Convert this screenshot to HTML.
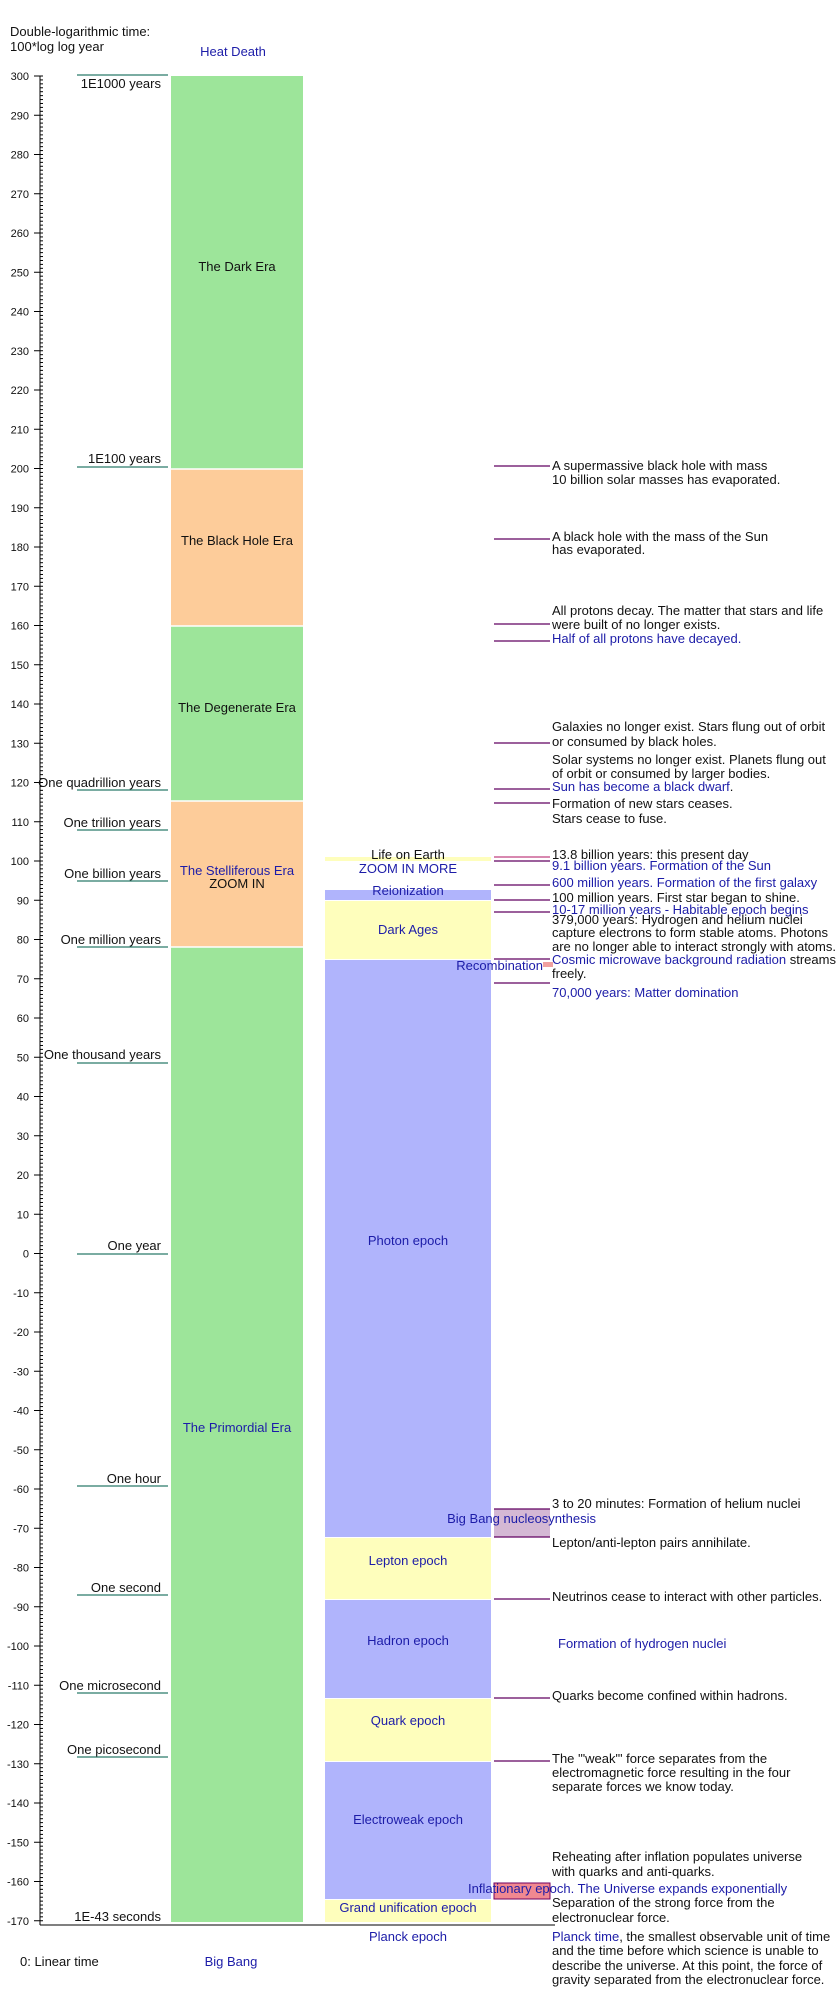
<!DOCTYPE html>
<html><head><meta charset="utf-8"><style>
html,body{margin:0;padding:0;background:#fff;}
svg{display:block;font-family:"Liberation Sans",sans-serif;}
.t{font-size:13px;fill:#111;}
.b{font-size:13px;fill:#1c1ca8;}
.k{font-size:11px;fill:#111;}
</style></head><body>
<svg width="840" height="2000" viewBox="0 0 840 2000" xmlns="http://www.w3.org/2000/svg">
<text class="t" x="10" y="36">Double-logarithmic time:</text>
<text class="t" x="10" y="51">100*log log year</text>
<text class="b" x="233" y="56" text-anchor="middle">Heat Death</text>

<!-- left column -->
<rect x="171" y="76" width="132" height="393" fill="#9de59a"/>
<rect x="171" y="469" width="132" height="157" fill="#fdcc9a"/>
<rect x="171" y="626" width="132" height="175" fill="#9de59a"/>
<rect x="171" y="801" width="132" height="146" fill="#fdcc9a"/>
<rect x="171" y="947" width="132" height="975" fill="#9de59a"/>
<g stroke="#fff" stroke-width="1.5">
<line x1="171" y1="469" x2="303" y2="469"/><line x1="171" y1="626" x2="303" y2="626"/>
<line x1="171" y1="801" x2="303" y2="801"/><line x1="171" y1="947" x2="303" y2="947"/>
</g>
<text class="t" x="237" y="271" text-anchor="middle">The Dark Era</text>
<text class="t" x="237" y="545" text-anchor="middle">The Black Hole Era</text>
<text class="t" x="237" y="712" text-anchor="middle">The Degenerate Era</text>
<text class="b" x="237" y="875" text-anchor="middle">The Stelliferous Era</text>
<text class="t" x="237" y="888" text-anchor="middle">ZOOM  IN</text>
<text class="b" x="237" y="1432" text-anchor="middle">The Primordial Era</text>

<!-- middle column -->
<rect x="325" y="857" width="166" height="4" fill="#fefebc"/>
<rect x="325" y="890" width="166" height="10" fill="#b0b4fc"/>
<rect x="325" y="901" width="166" height="58" fill="#fefebc"/>
<rect x="325" y="960" width="166" height="577" fill="#b0b4fc"/>
<rect x="325" y="1538" width="166" height="61" fill="#fefebc"/>
<rect x="325" y="1600" width="166" height="98" fill="#b0b4fc"/>
<rect x="325" y="1699" width="166" height="62" fill="#fefebc"/>
<rect x="325" y="1762" width="166" height="137" fill="#b0b4fc"/>
<rect x="325" y="1900" width="166" height="22" fill="#fefebc"/>
<text class="t" x="408" y="859" text-anchor="middle">Life on Earth</text>
<text class="b" x="408" y="873" text-anchor="middle">ZOOM  IN  MORE</text>
<text class="b" x="408" y="895" text-anchor="middle">Reionization</text>
<text class="b" x="408" y="934" text-anchor="middle">Dark Ages</text>
<text class="b" x="408" y="1245" text-anchor="middle">Photon epoch</text>
<text class="b" x="408" y="1565" text-anchor="middle">Lepton epoch</text>
<text class="b" x="408" y="1645" text-anchor="middle">Hadron epoch</text>
<text class="b" x="408" y="1725" text-anchor="middle">Quark epoch</text>
<text class="b" x="408" y="1824" text-anchor="middle">Electroweak epoch</text>
<text class="b" x="408" y="1912" text-anchor="middle">Grand unification epoch</text>
<text class="b" x="408" y="1941" text-anchor="middle">Planck epoch</text>

<!-- small boxes -->
<rect x="543" y="962" width="10" height="5" fill="#f0a0a0"/>
<rect x="494" y="1509" width="56" height="28" fill="#d4b8d4"/>
<rect x="494" y="1883" width="56" height="16" fill="#f08890" stroke="#700060" stroke-width="1"/>

<!-- axis -->
<g stroke="#000" stroke-width="1">
<line x1="40" y1="76" x2="40" y2="1925"/>
<line x1="40" y1="1925" x2="555" y2="1925"/>
</g>
<g id="ticks" stroke="#000" stroke-width="1"></g>
<g id="ticklabels"></g>

<!-- left labels -->
<g stroke="#2a7a6a" stroke-width="1.2">
<line x1="77" y1="75" x2="168" y2="75"/><line x1="77" y1="467" x2="168" y2="467"/>
<line x1="77" y1="790" x2="168" y2="790"/><line x1="77" y1="830" x2="168" y2="830"/>
<line x1="77" y1="881" x2="168" y2="881"/><line x1="77" y1="947" x2="168" y2="947"/>
<line x1="77" y1="1063" x2="168" y2="1063"/><line x1="77" y1="1254" x2="168" y2="1254"/>
<line x1="77" y1="1486" x2="168" y2="1486"/><line x1="77" y1="1595" x2="168" y2="1595"/>
<line x1="77" y1="1693" x2="168" y2="1693"/><line x1="77" y1="1757" x2="168" y2="1757"/>
</g>
<g class="t" text-anchor="end">
<text class="t" x="161" y="88">1E1000 years</text>
<text class="t" x="161" y="463">1E100 years</text>
<text class="t" x="161" y="787">One quadrillion years</text>
<text class="t" x="161" y="827">One trillion years</text>
<text class="t" x="161" y="878">One billion years</text>
<text class="t" x="161" y="944">One million years</text>
<text class="t" x="161" y="1059">One thousand years</text>
<text class="t" x="161" y="1250">One year</text>
<text class="t" x="161" y="1483">One hour</text>
<text class="t" x="161" y="1592">One second</text>
<text class="t" x="161" y="1690">One microsecond</text>
<text class="t" x="161" y="1754">One picosecond</text>
<text class="t" x="161" y="1921">1E-43 seconds</text>
</g>

<!-- right lines -->
<g stroke="#600060" stroke-width="1.2">
<line x1="494" y1="466" x2="550" y2="466"/><line x1="494" y1="539" x2="550" y2="539"/>
<line x1="494" y1="624" x2="550" y2="624"/><line x1="494" y1="641" x2="550" y2="641"/>
<line x1="494" y1="743" x2="550" y2="743"/><line x1="494" y1="789" x2="550" y2="789"/>
<line x1="494" y1="803" x2="550" y2="803"/>
<line x1="494" y1="861" x2="550" y2="861"/><line x1="494" y1="885" x2="550" y2="885"/>
<line x1="494" y1="900" x2="550" y2="900"/><line x1="494" y1="912" x2="550" y2="912"/>
<line x1="494" y1="959" x2="550" y2="959"/><line x1="494" y1="983" x2="550" y2="983"/>
<line x1="494" y1="1509" x2="550" y2="1509"/><line x1="494" y1="1537" x2="550" y2="1537"/>
<line x1="494" y1="1599" x2="550" y2="1599"/><line x1="494" y1="1698" x2="550" y2="1698"/>
<line x1="494" y1="1761" x2="550" y2="1761"/>
</g>
<line x1="494" y1="857" x2="550" y2="857" stroke="#c04080" stroke-width="1.2"/>

<text class="b" x="543" y="970" text-anchor="end">Recombination</text>
<text class="b" x="596" y="1523" text-anchor="end">Big Bang nucleosynthesis</text>
<text class="b" x="468" y="1893">Inflationary epoch. The Universe expands exponentially</text>

<g>
<text class="t" x="552" y="470">A supermassive black hole with mass</text>
<text class="t" x="552" y="484">10 billion solar masses has evaporated.</text>
<text class="t" x="552" y="541">A black hole with the mass of the Sun</text>
<text class="t" x="552" y="554">has evaporated.</text>
<text class="t" x="552" y="615">All protons decay. The matter that stars and life</text>
<text class="t" x="552" y="629">were built of no longer exists.</text>
<text class="b" x="552" y="643">Half of all protons have decayed.</text>
<text class="t" x="552" y="731">Galaxies no longer exist. Stars flung out of orbit</text>
<text class="t" x="552" y="746">or consumed by black holes.</text>
<text class="t" x="552" y="764">Solar systems no longer exist. Planets flung out</text>
<text class="t" x="552" y="778">of orbit or consumed by larger bodies.</text>
<text class="b" x="552" y="791">Sun has become a black dwarf<tspan fill="#111">.</tspan></text>
<text class="t" x="552" y="808">Formation of new stars ceases.</text>
<text class="t" x="552" y="823">Stars cease to fuse.</text>
<text class="t" x="552" y="859">13.8 billion years: this present day</text>
<text class="b" x="552" y="870">9.1 billion years. Formation of the Sun</text>
<text class="b" x="552" y="887">600 million years. Formation of the first galaxy</text>
<text class="t" x="552" y="902">100 million years. First star began to shine.</text>
<text class="b" x="552" y="914">10-17 million years - Habitable epoch begins</text>
<text class="t" x="552" y="924">379,000 years: Hydrogen and helium nuclei</text>
<text class="t" x="552" y="937">capture electrons to form stable atoms. Photons</text>
<text class="t" x="552" y="951">are no longer able to interact strongly with atoms.</text>
<text class="b" x="552" y="964">Cosmic microwave background radiation<tspan fill="#111"> streams</tspan></text>
<text class="t" x="552" y="978">freely.</text>
<text class="b" x="552" y="997">70,000 years: Matter domination</text>
<text class="t" x="552" y="1508">3 to 20 minutes: Formation of helium nuclei</text>
<text class="t" x="552" y="1547">Lepton/anti-lepton pairs annihilate.</text>
<text class="t" x="552" y="1601">Neutrinos cease to interact with other particles.</text>
<text class="b" x="558" y="1648">Formation of hydrogen nuclei</text>
<text class="t" x="552" y="1700">Quarks become confined within hadrons.</text>
<text class="t" x="552" y="1763">The '"weak"' force separates from the</text>
<text class="t" x="552" y="1777">electromagnetic force resulting in the four</text>
<text class="t" x="552" y="1791">separate forces we know today.</text>
<text class="t" x="552" y="1861">Reheating after inflation populates universe</text>
<text class="t" x="552" y="1876">with quarks and anti-quarks.</text>
<text class="t" x="552" y="1907">Separation of the strong force from the</text>
<text class="t" x="552" y="1922">electronuclear force.</text>
<text class="b" x="552" y="1941">Planck time<tspan fill="#111">, the smallest observable unit of time</tspan></text>
<text class="t" x="552" y="1955">and the time before which science is unable to</text>
<text class="t" x="552" y="1970">describe the universe.  At this point, the force of</text>
<text class="t" x="552" y="1984">gravity separated from the electronuclear force.</text>
</g>

<text class="t" x="20" y="1966">0: Linear time</text>
<text class="b" x="231" y="1966" text-anchor="middle">Big Bang</text>
</svg>
<script>
(function(){
var ns="http://www.w3.org/2000/svg";
var g=document.getElementById("ticks"),gl=document.getElementById("ticklabels");
function y(v){return 76+(300-v)*3.925;}
for(var v=300;v>=-170;v--){
 var l=document.createElementNS(ns,"line");
 var yy=y(v);
 if(v%10===0){l.setAttribute("x1",34);l.setAttribute("x2",43);
  var t=document.createElementNS(ns,"text");t.setAttribute("x",29);t.setAttribute("y",yy+4);
  t.setAttribute("text-anchor","end");t.setAttribute("class","k");t.textContent=v;gl.appendChild(t);}
 else{l.setAttribute("x1",40);l.setAttribute("x2",43);}
 l.setAttribute("y1",yy);l.setAttribute("y2",yy);g.appendChild(l);
}
})();
</script>
</body></html>
